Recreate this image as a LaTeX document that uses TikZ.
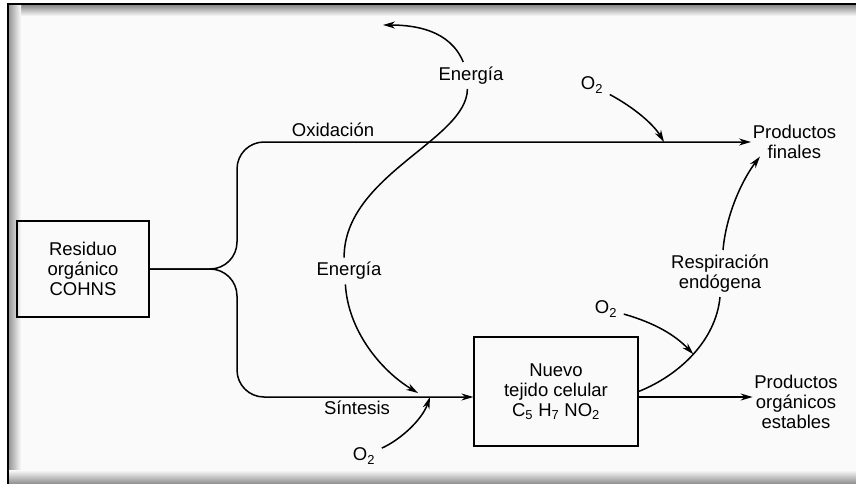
\documentclass[tikz,border=0pt]{standalone}
\usepackage{fontspec}
\setmainfont{Liberation Sans}
\usetikzlibrary{arrows.meta}

\newcommand{\diagfont}{\fontsize{18.5}{20}\selectfont}

\begin{document}
\begin{tikzpicture}[x=1pt,y=-1pt,->,>={Stealth[length=12pt,width=7pt]},line width=1.5pt,
    box node/.style={draw,rectangle,line width=1.2pt,align=center,font=\diagfont},
    txt node/.style={align=center,inner sep=1pt,font=\diagfont},
    gap node/.style={align=center,inner sep=4pt,font=\diagfont},
    gas node/.style={inner sep=6pt,font=\diagfont}]
                \useasboundingbox (0,0) rectangle (856,484);
                % marco
                \fill[-,white] (0,0) rectangle (856,484);
                \fill[-,black!2] (9,4) rectangle (856,484);
                \shade[-,top color=black!50,bottom color=black!2] (9,4) rectangle (856,16);
                \shade[-,left color=black!40,right color=black!2] (9,4) rectangle (21,484);
                \shade[-,top color=black!2,bottom color=black!45] (9,470) rectangle (856,484);
                \draw[-] (8,484) -- (8,4) -- (856,4);

                \node[box node,minimum width=132pt,minimum height=96pt] (1) at (83,269) {Residuo\\orgánico\\COHNS};
                \node[box node,minimum width=164pt,minimum height=109pt] (2) at (556,391.5) {Nuevo\\tejido celular\\C\textsubscript{5} H\textsubscript{7} NO\textsubscript{2}};
                \node[txt node,anchor=west] (3) at (751,142) {Productos\\finales};
                \node[txt node] (4) at (796,402) {Productos\\orgánicos\\estables};
                \node[txt node] (5) at (333,130) {Oxidación};
                \node[txt node] (6) at (357,408) {Síntesis};
                \node[gap node] (7) at (471,75.5) {Energía};
                \node[gap node] (8) at (349,271) {Energía};
                \node[gap node] (9) at (720,273.5) {Respiración\\endógena};
                \node[gas node] (10) at (592,85) {O\textsubscript{2}};
                \node[gas node] (11) at (606,309) {O\textsubscript{2}};
                \node[gas node] (12) at (364,456) {O\textsubscript{2}};

                \coordinate (a) at (664,142);
                \coordinate (s) at (430,397);
                \coordinate (e) at (418,393);
                \coordinate (t) at (383,25);

                \draw[rounded corners=27pt] (1.east) -| (237,142) -- (3.west);
                \draw[rounded corners=27pt] (1.east) -| (237,397) -- (2.west |- s);
                \draw (2.east |- s) -- (4.west |- s);

                % energia
                \draw (7.120) .. controls (450,30) and (415,25) .. (t);
                \draw[-] (7.-105) .. controls (467,140) and (344,175) .. (8.110);
                \draw (8.-105) .. controls (348,330) and (380,370) .. (e);

                % respiracion endogena
                \draw[-] (2.east) .. controls (680,375) and (716,340) .. (9.south) coordinate[pos=.5] (r);
                \draw ([xshift=3pt]9.north) .. controls (726,215) and (742,180) .. ([xshift=9pt,yshift=4pt]3.south west);

                % oxigeno
                \draw (10) .. controls (635,108) and (654,125) .. (a);
                \draw (11) .. controls (655,323) and (675,335) .. (r);
                \draw (12) .. controls (400,440) and (422,420) .. (s);
            \end{tikzpicture}
\end{document}
